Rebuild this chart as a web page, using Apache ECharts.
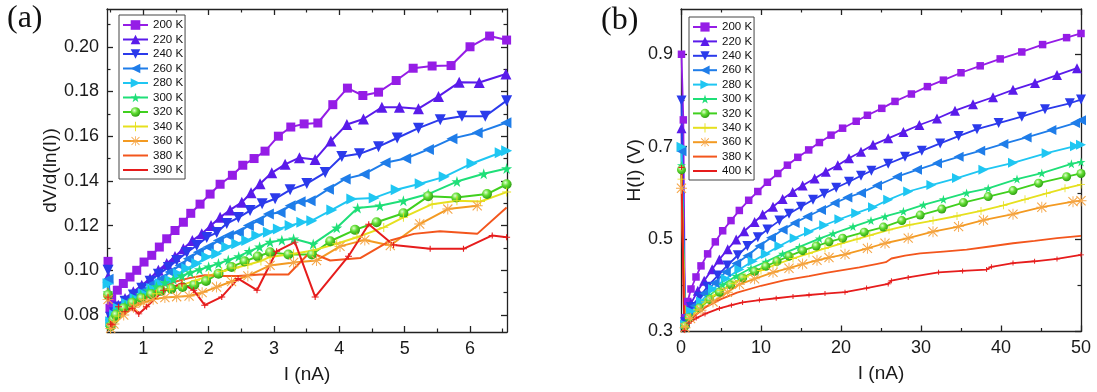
<!DOCTYPE html>
<html>
<head>
<meta charset="utf-8">
<script src="https://cdn.jsdelivr.net/npm/echarts@6/dist/echarts.min.js"></script>
<style>
  html, body { margin: 0; padding: 0; background: #fff; }
  #chart { width: 1097px; height: 392px; }
</style>
</head>
<body>
<div id="chart"></div>
<script>
// ---- temperature labels ----
const tempsA = ['200 K', '220 K', '240 K', '260 K', '280 K', '300 K', '320 K', '340 K', '360 K', '380 K', '390 K'];
const tempsB = ['200 K', '220 K', '240 K', '260 K', '280 K', '300 K', '320 K', '340 K', '360 K', '380 K', '400 K'];

// ---- tick values ----
const aXTicks = [1, 2, 3, 4, 5, 6];
const aXMinor = [0.5, 1.5, 2.5, 3.5, 4.5, 5.5, 6.5];
const aYTicks = [0.08, 0.10, 0.12, 0.14, 0.16, 0.18, 0.20];
const aYMinor = [0.09, 0.11, 0.13, 0.15, 0.17, 0.19, 0.21];
const bXTicks = [0, 10, 20, 30, 40, 50];
const bXMinor = [5, 15, 25, 35, 45];
const bYTicks = [0.3, 0.5, 0.7, 0.9];
const bYMinor = [0.4, 0.6, 0.8];

// ---- (a) dV/d(ln I) versus I (nA) ----
const a200 = [[0.46,0.104],[0.49,0.083],[0.516,0.087],[0.602,0.0911],[0.694,0.0941],[0.796,0.0970],[0.899,0.1000],[1.011,0.1037],[1.129,0.1067],[1.245,0.1104],[1.358,0.1141],[1.485,0.1178],[1.613,0.1215],[1.726,0.1255],[1.868,0.1296],[2.022,0.1341],[2.175,0.1385],[2.363,0.1425],[2.522,0.1470],[2.695,0.1500],[2.863,0.1533],[3.067,0.1600],[3.257,0.1641],[3.461,0.1655],[3.671,0.1659],[3.90,0.1741],[4.124,0.1815],[4.36,0.1782],[4.60,0.1797],[4.87,0.1849],[5.13,0.1904],[5.42,0.1914],[5.71,0.1916],[6.00,0.2000],[6.30,0.2048],[6.56,0.2030]];
const a220 = [[0.46,0.097],[0.50,0.080],[0.56,0.082],[0.617,0.0844],[0.720,0.0874],[0.847,0.0904],[0.976,0.0933],[1.103,0.0963],[1.230,0.1000],[1.358,0.1030],[1.485,0.1062],[1.613,0.1096],[1.750,0.1133],[1.894,0.1163],[2.037,0.1200],[2.175,0.1237],[2.328,0.1270],[2.507,0.1304],[2.649,0.1347],[2.787,0.1387],[2.966,0.1436],[3.170,0.1474],[3.389,0.1504],[3.629,0.1496],[3.870,0.1578],[4.115,0.1652],[4.369,0.1677],[4.651,0.1729],[4.920,0.1729],[5.211,0.1723],[5.518,0.1778],[5.834,0.1841],[6.141,0.1840],[6.55,0.1878]];
const a240 = [[0.46,0.100],[0.50,0.079],[0.56,0.081],[0.617,0.0836],[0.720,0.0862],[0.847,0.0889],[0.976,0.0920],[1.103,0.0951],[1.230,0.0982],[1.383,0.1013],[1.511,0.1044],[1.665,0.1080],[1.818,0.1111],[1.971,0.1147],[2.124,0.1169],[2.277,0.1209],[2.455,0.1236],[2.634,0.1267],[2.818,0.1298],[3.017,0.1320],[3.247,0.1360],[3.502,0.1388],[3.783,0.1437],[4.038,0.1509],[4.308,0.1521],[4.599,0.1553],[4.885,0.1592],[5.211,0.1636],[5.544,0.1674],[5.876,0.1689],[6.233,0.1689],[6.56,0.1759]];
const a260 = [[0.46,0.096],[0.50,0.078],[0.57,0.081],[0.643,0.0837],[0.770,0.0859],[0.899,0.0881],[1.026,0.0911],[1.153,0.0941],[1.282,0.0963],[1.409,0.0992],[1.562,0.1022],[1.689,0.1052],[1.842,0.1081],[1.995,0.1104],[2.149,0.1133],[2.302,0.1156],[2.455,0.1170],[2.608,0.1200],[2.761,0.1222],[2.914,0.1252],[3.093,0.1259],[3.247,0.1289],[3.400,0.1307],[3.553,0.1311],[3.833,0.1363],[4.089,0.1409],[4.380,0.1430],[4.701,0.1481],[5.015,0.1500],[5.364,0.1541],[5.723,0.1589],[6.110,0.1615],[6.55,0.1660]];
const a280 = [[0.46,0.094],[0.50,0.077],[0.56,0.080],[0.617,0.0830],[0.746,0.0852],[0.873,0.0874],[1.000,0.0896],[1.129,0.0919],[1.256,0.0941],[1.409,0.0956],[1.536,0.0985],[1.665,0.1008],[1.818,0.1030],[1.971,0.1059],[2.124,0.1074],[2.277,0.1104],[2.430,0.1119],[2.583,0.1133],[2.737,0.1156],[2.914,0.1170],[3.067,0.1185],[3.247,0.1200],[3.426,0.1215],[3.579,0.1222],[3.885,0.1270],[4.191,0.1319],[4.533,0.1324],[4.870,0.1360],[5.237,0.1387],[5.605,0.1418],[6.029,0.1478],[6.462,0.1526],[6.56,0.1535]];
const a300 = [[0.46,0.090],[0.50,0.076],[0.55,0.079],[0.60,0.0820],[0.72,0.0845],[0.84,0.0868],[0.96,0.0890],[1.08,0.0910],[1.20,0.0928],[1.33,0.0945],[1.46,0.0960],[1.59,0.0975],[1.72,0.0990],[1.86,0.1003],[2.00,0.1016],[2.15,0.1030],[2.30,0.1046],[2.46,0.1062],[2.62,0.1085],[2.78,0.1105],[2.94,0.1126],[3.12,0.1135],[3.30,0.1141],[3.60,0.1118],[3.96,0.1190],[4.28,0.1279],[4.62,0.1289],[4.98,0.1311],[5.36,0.1341],[5.80,0.1397],[6.21,0.1432],[6.56,0.1455]];
const a320 = [[0.46,0.089],[0.50,0.075],[0.54,0.078],[0.58,0.0800],[0.70,0.0830],[0.83,0.0855],[0.97,0.0875],[1.12,0.0893],[1.27,0.0908],[1.43,0.0918],[1.60,0.0925],[1.78,0.0935],[1.96,0.0952],[2.15,0.0985],[2.35,0.1015],[2.55,0.1040],[2.75,0.1062],[2.94,0.1081],[3.22,0.1071],[3.58,0.1071],[3.86,0.1130],[4.24,0.1181],[4.57,0.1215],[4.98,0.1255],[5.36,0.1331],[5.79,0.1326],[6.26,0.1341],[6.56,0.1385]];
const a340 = [[0.46,0.088],[0.50,0.074],[0.55,0.077],[0.62,0.0795],[0.70,0.0812],[0.85,0.0845],[1.00,0.0870],[1.20,0.0895],[1.40,0.0915],[1.60,0.0935],[1.80,0.0955],[2.00,0.0975],[2.20,0.0995],[2.40,0.1010],[2.60,0.1025],[2.80,0.1042],[2.94,0.1060],[3.30,0.1074],[3.60,0.1089],[3.96,0.1119],[4.27,0.1148],[4.68,0.1192],[4.98,0.1237],[5.42,0.1296],[5.80,0.1311],[6.16,0.1308],[6.56,0.1350]];
const a360 = [[0.46,0.087],[0.50,0.074],[0.55,0.076],[0.70,0.0800],[0.85,0.0835],[1.00,0.0855],[1.15,0.0870],[1.33,0.0878],[1.51,0.0882],[1.70,0.0885],[1.90,0.0900],[2.12,0.0925],[2.35,0.0950],[2.60,0.0975],[2.94,0.1022],[3.30,0.1035],[3.65,0.1044],[4.01,0.1107],[4.39,0.1136],[4.78,0.1111],[5.23,0.1207],[5.66,0.1274],[6.11,0.1289]];
const a380 = [[0.46,0.092],[0.49,0.075],[0.55,0.078],[0.70,0.0810],[0.85,0.0840],[1.00,0.0870],[1.15,0.0900],[1.30,0.0930],[1.50,0.0950],[1.70,0.0965],[1.94,0.0978],[2.20,0.0975],[2.45,0.0975],[2.79,0.0981],[3.22,0.0981],[3.55,0.1081],[3.86,0.1044],[4.32,0.1055],[4.78,0.1133],[5.14,0.1163],[5.54,0.1175],[6.11,0.1163],[6.56,0.1281]];
const a390 = [[0.46,0.088],[0.50,0.076],[0.52,0.0756],[0.62,0.0837],[0.72,0.0815],[0.83,0.0830],[0.93,0.0805],[1.05,0.0837],[1.31,0.0911],[1.59,0.0940],[1.77,0.0911],[1.94,0.0844],[2.20,0.0881],[2.45,0.0963],[2.74,0.0911],[3.04,0.1085],[3.32,0.1126],[3.63,0.0881],[4.14,0.1063],[4.45,0.1206],[4.83,0.1113],[5.39,0.1096],[5.90,0.1096],[6.34,0.1156],[6.56,0.1148]];

// ---- (b) H(I) (V) versus I (nA) ----
const b200 = [[0.06,0.900],[0.29,0.758],[0.5,0.330],[0.83,0.365],[1.25,0.392],[1.875,0.418],[2.5,0.442],[3.33,0.468],[4.29,0.494],[5.21,0.518],[6.25,0.540],[7.29,0.562],[8.46,0.584],[9.6,0.603],[10.8,0.623],[12.1,0.642],[13.3,0.660],[14.6,0.677],[15.96,0.693],[17.3,0.709],[18.75,0.725],[20.2,0.740],[21.9,0.755],[23.3,0.768],[25.1,0.783],[26.75,0.798],[28.8,0.814],[30.8,0.830],[32.8,0.844],[35.0,0.860],[37.4,0.875],[39.9,0.890],[42.6,0.905],[45.2,0.921],[48.2,0.936],[50,0.945]];
const b220 = [[0.06,0.740],[0.5,0.325],[1.25,0.361],[2.1,0.388],[2.9,0.410],[3.9,0.435],[4.8,0.456],[5.84,0.478],[6.9,0.499],[7.9,0.517],[9.2,0.537],[10.2,0.553],[11.5,0.570],[12.7,0.587],[13.96,0.602],[15.2,0.616],[16.7,0.631],[18.1,0.646],[19.6,0.660],[21.0,0.675],[22.5,0.689],[24.0,0.704],[25.9,0.718],[27.8,0.732],[29.8,0.747],[32.0,0.761],[34.25,0.778],[36.5,0.792],[39.0,0.807],[41.5,0.823],[44.25,0.838],[47.0,0.855],[49.5,0.870]];
const b240 = [[0.06,0.800],[0.5,0.320],[1.25,0.353],[2.3,0.375],[3.3,0.397],[4.6,0.421],[5.8,0.443],[7.1,0.465],[8.3,0.485],[9.6,0.504],[10.8,0.521],[12.3,0.540],[13.5,0.555],[15.0,0.570],[16.5,0.585],[17.9,0.598],[19.4,0.611],[21.0,0.624],[22.5,0.637],[23.8,0.648],[25.9,0.663],[28.0,0.678],[30.1,0.691],[32.4,0.707],[34.7,0.723],[37.0,0.738],[39.7,0.751],[42.6,0.765],[45.5,0.781],[48.6,0.794],[50,0.802]];
const b260 = [[0.06,0.690],[0.5,0.318],[0.9,0.336],[1.7,0.356],[2.9,0.382],[4.2,0.405],[5.6,0.429],[6.9,0.447],[8.3,0.464],[9.8,0.485],[11.25,0.503],[12.7,0.520],[14.2,0.535],[15.8,0.549],[17.5,0.563],[19.2,0.578],[20.8,0.590],[22.5,0.600],[24.5,0.616],[27.0,0.635],[29.5,0.650],[32.0,0.664],[34.7,0.678],[37.4,0.691],[40.3,0.706],[43.2,0.720],[46.3,0.736],[49.25,0.751],[50,0.757]];
const b280 = [[0.06,0.700],[0.5,0.315],[1.25,0.344],[2.5,0.365],[4.0,0.392],[5.6,0.414],[7.3,0.434],[8.96,0.452],[10.6,0.468],[12.3,0.485],[14.2,0.502],[16.0,0.516],[17.9,0.530],[19.8,0.543],[21.9,0.556],[24.0,0.569],[25.9,0.585],[28.4,0.603],[31.3,0.617],[34.5,0.632],[37.8,0.650],[41.5,0.665],[45.7,0.686],[49.25,0.701],[50,0.704]];
const b300 = [[0.06,0.660],[0.5,0.313],[1.0,0.333],[2.1,0.353],[3.5,0.377],[5.2,0.401],[6.9,0.420],[8.75,0.437],[10.6,0.451],[12.7,0.468],[14.8,0.483],[17.3,0.501],[19.0,0.512],[21.5,0.527],[23.75,0.540],[25.5,0.549],[27.8,0.560],[30.3,0.574],[32.8,0.586],[35.7,0.600],[38.4,0.610],[42.0,0.630],[45.1,0.643],[48.8,0.663],[50,0.667]];
const b320 = [[0.06,0.650],[0.5,0.312],[1.0,0.330],[2.3,0.351],[3.6,0.369],[4.8,0.385],[6.2,0.401],[7.7,0.416],[9.2,0.430],[10.6,0.441],[12.0,0.452],[13.5,0.463],[15.2,0.475],[16.9,0.485],[18.5,0.494],[20.2,0.502],[22.9,0.515],[25.3,0.526],[27.6,0.540],[29.9,0.552],[32.6,0.565],[35.3,0.579],[38.4,0.592],[41.5,0.605],[44.7,0.621],[48.2,0.635],[50,0.642]];
const b340 = [[0.06,0.630],[0.5,0.311],[1.0,0.329],[2.0,0.347],[3.0,0.364],[4.0,0.377],[5.0,0.389],[6.5,0.404],[8.0,0.418],[10.0,0.432],[12.0,0.446],[14.0,0.458],[16.0,0.469],[18.0,0.480],[20.0,0.490],[22.0,0.500],[23.6,0.508],[26.0,0.520],[28.6,0.531],[31.5,0.540],[34.5,0.550],[37.5,0.561],[40.3,0.573],[43.0,0.586],[45.7,0.599],[48.0,0.610],[50,0.618]];
const b360 = [[0.06,0.610],[0.5,0.308],[1.2,0.328],[2.5,0.346],[4.0,0.364],[5.8,0.385],[7.3,0.402],[9.2,0.414],[11.5,0.428],[13.5,0.437],[15.2,0.446],[17.0,0.454],[18.5,0.460],[20.5,0.467],[23.3,0.480],[25.5,0.491],[28.4,0.502],[31.5,0.516],[34.7,0.527],[37.8,0.541],[41.5,0.554],[45.1,0.569],[49.0,0.581],[50,0.583]];
const b380 = [[0.06,0.660],[0.4,0.302],[1.0,0.322],[2.0,0.338],[3.0,0.352],[5.0,0.370],[7.0,0.384],[10.0,0.399],[13.0,0.411],[16.0,0.420],[18.1,0.427],[20.2,0.433],[22.3,0.439],[24.4,0.446],[25.6,0.450],[26.3,0.458],[28.0,0.464],[29.9,0.469],[32.8,0.473],[35.7,0.477],[38.6,0.484],[41.5,0.491],[44.2,0.496],[47.0,0.502],[50,0.507]];
const b400 = [[0.06,0.655],[0.4,0.302],[1.0,0.318],[1.9,0.329],[3.0,0.338],[4.8,0.350],[6.3,0.357],[7.7,0.363],[9.8,0.368],[11.9,0.372],[14.0,0.376],[16.0,0.379],[18.0,0.382],[20.5,0.385],[23.2,0.394],[25.9,0.403],[26.3,0.410],[28.4,0.417],[32.2,0.428],[35.2,0.431],[38.2,0.434],[38.8,0.440],[41.5,0.448],[44.2,0.452],[47.0,0.457],[50,0.466]];

const seriesA = [a200, a220, a240, a260, a280, a300, a320, a340, a360, a380, a390];
const seriesB = [b200, b220, b240, b260, b280, b300, b320, b340, b360, b380, b400];

// ---- marker shapes ----
const STAR = 'path://M50,0L61,35L98,35L68,57L79,91L50,70L21,91L32,57L2,35L39,35Z';
const PLUS_THIN = 'path://M45,0H55V100H45Z M0,45H100V55H0Z';
const PLUS = 'path://M42,0H58V100H42Z M0,42H100V58H0Z';
const ASTER = 'path://M46,0H54V100H46Z M0,46H100V54H0Z M12,5L95,88L88,95L5,12Z M88,5L95,12L12,95L5,88Z';
const SPHERE = {
  type: 'radial', x: 0.38, y: 0.34, r: 0.68,
  colorStops: [
    { offset: 0, color: '#e4ffd2' },
    { offset: 0.45, color: '#62de34' },
    { offset: 1, color: '#2c9c12' }
  ]
};

// one style per temperature: line colour, marker, marker size in (a) and (b)
const styles = [
  { color: '#951de6', symbol: 'rect', sa: 9, sb: 7.5 },
  { color: '#5a1bea', symbol: 'triangle', sa: 11, sb: 10 },
  { color: '#2b3aeb', symbol: 'triangle', rotate: 180, sa: 11, sb: 10 },
  { color: '#1f7de9', symbol: 'triangle', rotate: 90, sa: 11, sb: 10 },
  { color: '#1fc6f2', symbol: 'triangle', rotate: -90, sa: 11, sb: 10 },
  { color: '#1fdf78', symbol: STAR, sa: 11, sb: 9 },
  { color: '#40d01e', fill: SPHERE, symbol: 'circle', sa: 10, sb: 9 },
  { color: '#e6e01e', symbol: PLUS_THIN, sa: 9, sb: 8 },
  { color: '#f39a22', fill: '#f5a648', symbol: ASTER, sa: 11, sb: 11 },
  { color: '#f3561d', symbol: 'none', lineOnly: true },
  { color: '#e61c1c', symbol: PLUS, sa: [7, 6], sb: [6, 5], lineOnly: true }
];

const FONT = 'Liberation Sans';
const AXIS_COLOR = '#222';

function makeSeries(name, data, st, axisIdx, size, lw) {
  return {
    type: 'line',
    name: name,
    data: data,
    xAxisIndex: axisIdx,
    yAxisIndex: axisIdx,
    symbol: st.symbol,
    symbolSize: size,
    symbolRotate: st.rotate || 0,
    showSymbol: st.symbol !== 'none',
    lineStyle: { color: st.color, width: lw },
    itemStyle: { color: st.fill || st.color },
    clip: true,
    silent: true,
    animation: false
  };
}

function axisPair(dim, grid, pos, min, max, majors, minors, withLabel, fmt, extra) {
  const base = {
    type: 'value', gridIndex: grid, position: pos, min: min, max: max,
    splitLine: { show: false }
  };
  const major = Object.assign({}, base, {
    axisLine: { show: true, onZero: false, lineStyle: { color: AXIS_COLOR, width: 1.3 } },
    axisTick: { show: true, inside: true, length: 6, customValues: majors, lineStyle: { color: AXIS_COLOR, width: 1.3 } },
    axisLabel: withLabel
      ? { show: true, customValues: majors, formatter: fmt, margin: 8, fontSize: 18, fontFamily: FONT, color: '#1a1a1a' }
      : { show: false }
  }, extra || {});
  const minor = Object.assign({}, base, {
    axisLine: { show: false, onZero: false },
    axisTick: { show: true, inside: true, length: 3.5, customValues: minors, lineStyle: { color: AXIS_COLOR, width: 1.2 } },
    axisLabel: { show: false }
  });
  return [major, minor];
}

const nameStyle = { fontSize: 19, fontFamily: FONT, color: '#1a1a1a' };

const xAxes = [].concat(
  axisPair('x', 0, 'bottom', 0.444, 6.566, aXTicks, aXMinor, true, v => String(v),
    { name: 'I (nA)', nameLocation: 'middle', nameGap: 33, nameTextStyle: nameStyle }),
  axisPair('x', 0, 'top', 0.444, 6.566, aXTicks, aXMinor, false),
  axisPair('x', 1, 'bottom', 0, 50, bXTicks, bXMinor, true, v => String(v),
    { name: 'I (nA)', nameLocation: 'middle', nameGap: 33, nameTextStyle: nameStyle }),
  axisPair('x', 1, 'top', 0, 50, bXTicks, bXMinor, false)
);
const yAxes = [].concat(
  axisPair('y', 0, 'left', 0.0724, 0.2169, aYTicks, aYMinor, true, v => v.toFixed(2),
    { name: 'dV/d(ln(I))', nameLocation: 'middle', nameGap: 45, nameTextStyle: nameStyle }),
  axisPair('y', 0, 'right', 0.0724, 0.2169, aYTicks, aYMinor, false),
  axisPair('y', 1, 'left', 0.3, 0.998, bYTicks, bYMinor, true, v => v.toFixed(1),
    { name: 'H(I) (V)', nameLocation: 'middle', nameGap: 36, nameTextStyle: nameStyle }),
  axisPair('y', 1, 'right', 0.3, 0.998, bYTicks, bYMinor, false)
);

const series = [];
tempsA.forEach((t, i) => series.push(makeSeries(t, seriesA[i], styles[i], 0, styles[i].sa, 2)));
tempsB.forEach((t, i) => series.push(makeSeries(t, seriesB[i], styles[i], 4, styles[i].sb, 1.8)));

function legendData(names) {
  return names.map((n, i) => styles[i].lineOnly ? { name: n, itemStyle: { opacity: 0 } } : { name: n });
}

function makeLegend(names, left, top, itemW, itemH, gap) {
  return {
    data: legendData(names),
    orient: 'vertical',
    left: left, top: top,
    itemWidth: itemW, itemHeight: itemH, itemGap: gap,
    padding: [4, 2, 3, 3],
    borderColor: '#444', borderWidth: 1, backgroundColor: '#fff',
    selectedMode: false,
    textStyle: { fontSize: 11.5, fontFamily: FONT, color: '#111' }
  };
}

const chart = echarts.init(document.getElementById('chart'), null, { renderer: 'canvas' });
chart.setOption({
  animation: false,
  backgroundColor: '#ffffff',
  grid: [
    { left: 107, top: 9, width: 400, height: 323 },
    { left: 681, top: 9, width: 400, height: 322.5 }
  ],
  xAxis: xAxes,
  yAxis: yAxes,
  legend: [
    makeLegend(tempsA, 119, 15, 25, 12, 2.5),
    makeLegend(tempsB, 689, 17, 24, 11.5, 2.4)
  ],
  graphic: [
    { type: 'text', left: 7, top: 3, style: { text: '(a)', font: '32px "Liberation Serif"', fill: '#111' } },
    { type: 'text', left: 601, top: 5, style: { text: '(b)', font: '32px "Liberation Serif"', fill: '#111' } }
  ],
  series: series
});
</script>
</body>
</html>
